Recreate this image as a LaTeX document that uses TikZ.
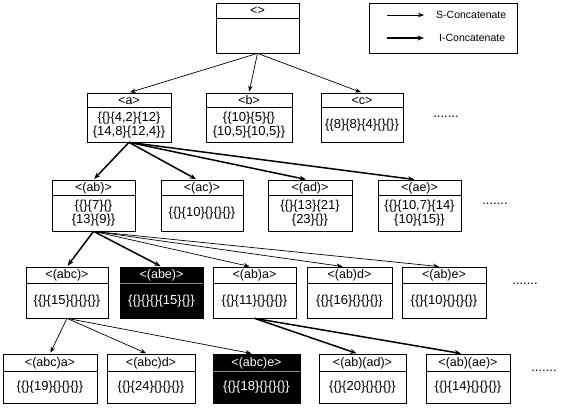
\documentclass[tikz,border=0pt]{standalone}
\usepackage{fontspec}
\setmainfont{Liberation Sans}
\usetikzlibrary{arrows.meta}
\tikzset{
  nbox/.style={draw=black,line width=0.7pt,fill=white,inner sep=0pt},
  kbox/.style={draw=black,line width=0.7pt,fill=black,inner sep=0pt},
  nhdr/.style={inner sep=0pt,text=black,font=\fontsize{12.5}{14}\selectfont},
  khdr/.style={inner sep=0pt,text=white,font=\fontsize{12.5}{14}\selectfont},
  nbody/.style={inner sep=0pt,align=center,text=black,font=\fontsize{13}{14}\selectfont},
  kbody/.style={inner sep=0pt,align=center,text=white,font=\fontsize{13}{14}\selectfont},
  ndiv/.style={draw=black,line width=0.7pt},
  kdiv/.style={draw=black!45,line width=0.9pt},
  sc/.style={line width=0.7pt,-{Stealth[length=6pt,width=4.5pt]},shorten >=1pt},
  ic/.style={line width=1.5pt,-{Stealth[length=6.5pt,width=5pt]},shorten >=1pt},
  dots/.style={inner sep=0pt,font=\fontsize{13}{14}\selectfont},
  legtxt/.style={inner sep=0pt,anchor=west,font=\fontsize{10.5}{12}\selectfont},
}
% #1 n/k, #2 name, #3 left, #4 top, #5 right, #6 bottom, #7 divider y, #8 header, #9 body
\newcommand\tboxx[9]{%
  \node[#1box,minimum width={#5-#3},minimum height={#6-#4}] (#2) at ({(#3+#5)/2},{(#4+#6)/2}) {};
  \draw[#1div] (#3,#7) -- (#5,#7);
  \node[#1hdr] (#2h) at ({(#3+#5)/2},{(#4+#7)/2+0.5}) {#8};
  \node[#1body] (#2b) at ({(#3+#5)/2},{(#7+#6)/2+0.5}) {#9};%
}
\begin{document}
\begin{tikzpicture}[x=1pt,y=-1pt]
\useasboundingbox (0,0) rectangle (571,408);
% legend
\node[draw=black,line width=0.7pt,minimum width=148,minimum height=50,inner sep=0pt] (leg) at (443,28) {};
\coordinate (s1) at (387,15); \coordinate (s2) at (424,15);
\coordinate (i1) at (387,38); \coordinate (i2) at (424,38);
\draw[line width=0.7pt,-{Stealth[length=6pt,width=4.5pt]}] (s1) -- (s2);
\draw[line width=1.5pt,-{Stealth[length=6.5pt,width=5pt]}] (i1) -- (i2);
\node[legtxt] (lt1) at (436,15) {S-Concatenate};
\node[legtxt] (lt2) at (439,38) {I-Concatenate};
% root
\tboxx{n}{root}{216}{3}{299}{53}{18}{<>}{}
% level 1
\tboxx{n}{a}{87}{93}{171}{142}{107}{<a>}{\{\{\}\{4,2\}\{12\}\\\{14,8\}\{12,4\}\}}
\tboxx{n}{b}{206}{93}{292}{142}{107}{<b>}{\{\{10\}\{5\}\{\}\\\{10,5\}\{10,5\}\}}
\tboxx{n}{c}{321}{93}{403}{142}{107}{<c>}{\{\{8\}\{8\}\{4\}\{\}\{\}\}}
\node[dots] (d1) at (446,117) {.......};
% level 2
\tboxx{n}{ab}{52}{180}{135}{231}{195}{<(ab)>}{\{\{\}\{7\}\{\}\\\{13\}\{9\}\}}
\tboxx{n}{ac}{161}{180}{243}{231}{195}{<(ac)>}{\{\{\}\{10\}\{\}\{\}\{\}\}}
\tboxx{n}{ad}{268}{180}{352}{231}{195}{<(ad)>}{\{\{\}\{13\}\{21\}\\\{23\}\{\}\}}
\tboxx{n}{ae}{378}{180}{461}{231}{195}{<(ae)>}{\{\{\}\{10,7\}\{14\}\\\{10\}\{15\}\}}
\node[dots] (d2) at (495,204) {.......};
% level 3
\tboxx{n}{abc}{26}{267}{108}{318}{283}{<(abc)>}{\{\{\}\{15\}\{\}\{\}\{\}\}}
\tboxx{k}{abe}{120}{267}{203}{318}{283}{<(abe)>}{\{\{\}\{\}\{\}\{15\}\{\}\}}
\tboxx{n}{aba}{213}{267}{296}{318}{283}{<(ab)a>}{\{\{\}\{11\}\{\}\{\}\{\}\}}
\tboxx{n}{abd}{307}{267}{392}{318}{283}{<(ab)d>}{\{\{\}\{16\}\{\}\{\}\{\}\}}
\tboxx{n}{abee}{402}{267}{486}{318}{283}{<(ab)e>}{\{\{\}\{10\}\{\}\{\}\{\}\}}
\node[dots] (d3) at (525,284) {.......};
% level 4
\tboxx{n}{abca}{3}{354}{97}{403}{371}{<(abc)a>}{\{\{\}\{19\}\{\}\{\}\{\}\}}
\tboxx{n}{abcd}{107}{354}{195}{403}{371}{<(abc)d>}{\{\{\}\{24\}\{\}\{\}\{\}\}}
\tboxx{k}{abce}{213}{354}{300}{403}{371}{<(abc)e>}{\{\{\}\{18\}\{\}\{\}\{\}\}}
\tboxx{n}{abad}{319}{354}{406}{403}{371}{<(ab)(ad)>}{\{\{\}\{20\}\{\}\{\}\{\}\}}
\tboxx{n}{abae}{426}{354}{510}{403}{371}{<(ab)(ae)>}{\{\{\}\{14\}\{\}\{\}\{\}\}}
\node[dots] (d4) at (544,371) {.......};
% edges
\draw[sc] (root.south) -- (a.north);
\draw[sc] (root.south) -- (b.north);
\draw[sc] (root.south) -- (c.north);
\draw[ic] (a.south) -- (ab.north);
\draw[ic] (a.south) -- ([xshift=-5pt]ac.north);
\draw[ic] (a.south) -- ([xshift=-3pt]ad.north);
\draw[ic] (a.south) -- ([xshift=-4pt]ae.north);
\draw[ic] (ab.south) -- (abc.north);
\draw[ic] (ab.south) -- (abe.north);
\draw[sc] (ab.south) -- ([xshift=-4pt]aba.north);
\draw[sc] (ab.south) -- ([xshift=-6pt]abd.north);
\draw[sc] (ab.south) -- ([xshift=-4pt]abee.north);
\draw[sc] (abc.south) -- (abca.north);
\draw[sc] (abc.south) -- ([xshift=-4pt]abcd.north);
\draw[sc] (abc.south) -- ([xshift=-4pt]abce.north);
\draw[ic] (aba.south) -- ([xshift=-5pt]abad.north);
\draw[ic] (aba.south) -- ([xshift=-6pt]abae.north);
\end{tikzpicture}
\end{document}
